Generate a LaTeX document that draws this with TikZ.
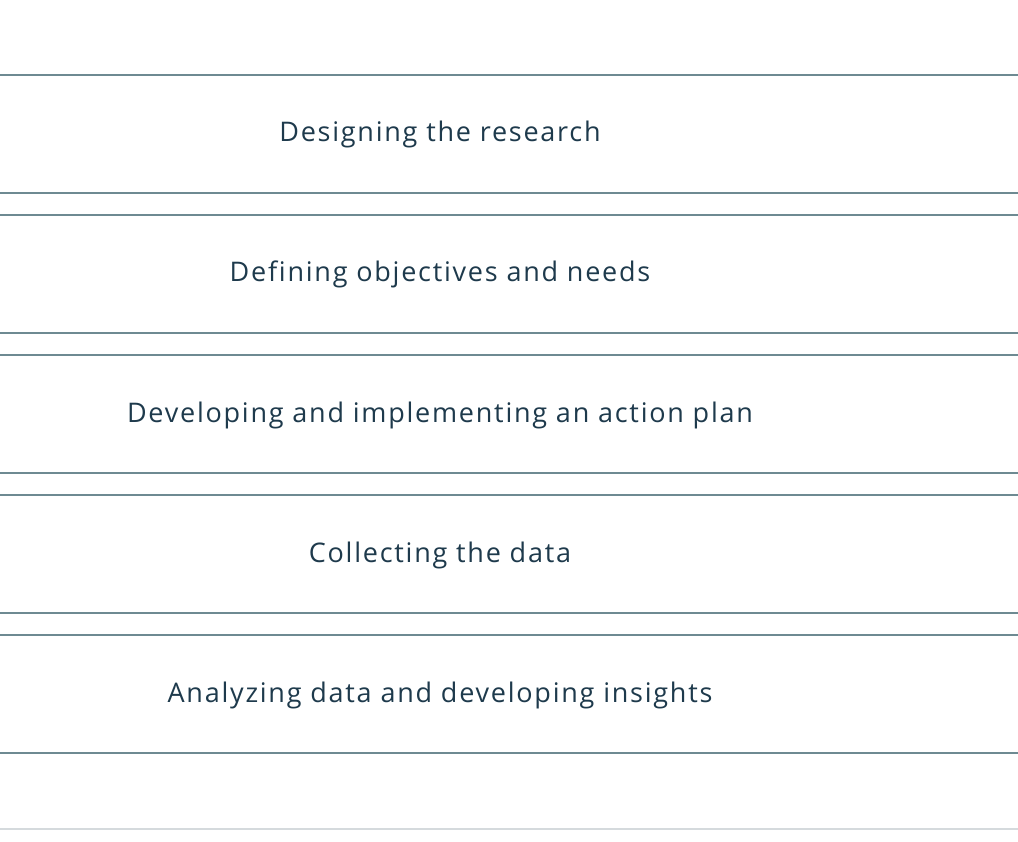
\documentclass[tikz,border=0pt]{standalone}
\usepackage{fontspec}
\setmainfont{Open Sans}[Ligatures=NoCommon,LetterSpace=6.5]
\definecolor{rule}{HTML}{6E8A92}
\definecolor{lightrule}{HTML}{D5DADD}
\definecolor{ink}{HTML}{1E3A4C}
\begin{document}
\begin{tikzpicture}[x=1pt,y=-1pt,
  band/.style={rectangle,minimum width=1018pt,minimum height=118pt,inner sep=0pt,outer sep=0pt},
  rulestyle/.style={draw=rule,line width=2pt},
  lbl/.style={text=ink,font=\fontsize{27}{31}\selectfont,inner sep=0pt,anchor=base}]
\useasboundingbox (0,0) rectangle (1018,842);
\fill[white] (0,0) rectangle (1018,842);
\foreach \i/\y/\t in {1/134/Designing the research,
                      2/274/Defining objectives and needs,
                      3/414/Developing and implementing an action plan,
                      4/554/Collecting the data,
                      5/694/Analyzing data and developing insights}{
  \node[band] (b\i) at (509,\y) {};
  \draw[rulestyle] (b\i.north west) -- (b\i.north east);
  \draw[rulestyle] (b\i.south west) -- (b\i.south east);
  \node[lbl] (t\i) at (440,\y+8) {\t};
}
\coordinate (bl) at (0,829);
\coordinate (br) at (1018,829);
\draw[draw=lightrule,line width=2pt] (bl) -- (br);
\end{tikzpicture}
\end{document}
